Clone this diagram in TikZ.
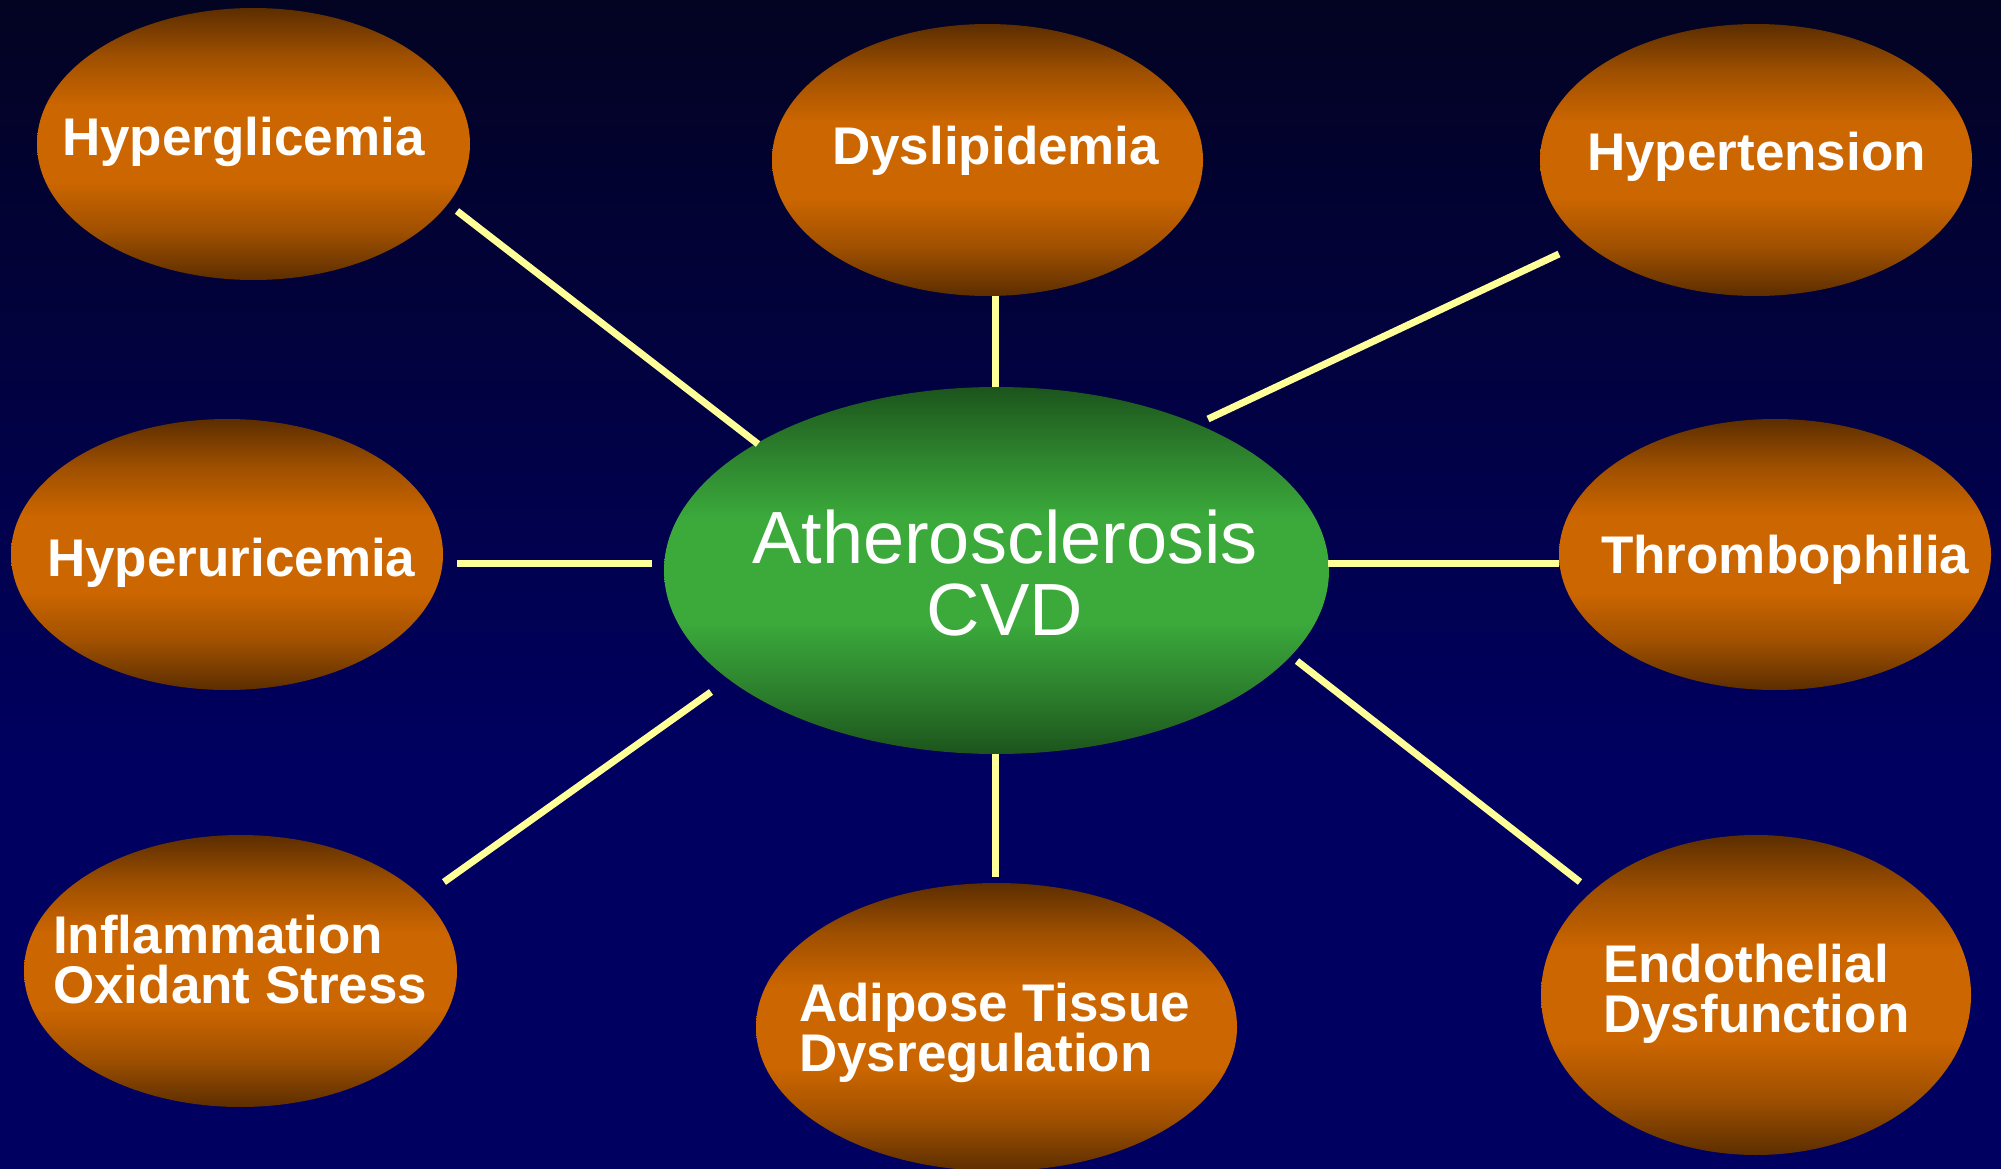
\documentclass[tikz,border=0pt]{standalone}
\usepackage{fontspec}
\setmainfont{Liberation Sans}
\usetikzlibrary{shapes.geometric}
\definecolor{bgtop}{RGB}{3,3,34}
\definecolor{bgbot}{RGB}{0,0,96}
\definecolor{orangemid}{RGB}{204,102,0}
\definecolor{orangeq}{RGB}{160,80,0}
\definecolor{orangeedge}{RGB}{92,46,0}
\definecolor{greenmid}{RGB}{59,170,59}
\definecolor{greenq}{RGB}{45,130,45}
\definecolor{greenedge}{RGB}{28,84,28}
\definecolor{linkcol}{RGB}{255,255,153}
\pgfdeclareverticalshading{orangeband}{100bp}{color(0bp)=(orangeedge); color(25bp)=(orangeedge); color(34bp)=(orangeq); color(43bp)=(orangemid); color(57bp)=(orangemid); color(66bp)=(orangeq); color(75bp)=(orangeedge); color(100bp)=(orangeedge)}
\pgfdeclareverticalshading{greenband}{100bp}{color(0bp)=(greenedge); color(25bp)=(greenedge); color(34bp)=(greenq); color(43bp)=(greenmid); color(57bp)=(greenmid); color(66bp)=(greenq); color(75bp)=(greenedge); color(100bp)=(greenedge)}
\tikzset{
  blob/.style={ellipse, inner sep=0pt, draw=none, shading=orangeband},
  hub/.style={ellipse, inner sep=0pt, draw=none, shading=greenband},
  lbl/.style={anchor=base west, inner sep=0pt, text=white, align=left,
    font=\fontsize{53}{50}\selectfont\bfseries},
  hublbl/.style={anchor=base, inner sep=0pt, text=white, align=center,
    font=\fontsize{74}{72}\selectfont},
  link/.style={draw=linkcol, line width=7pt}
}
\begin{document}
\begin{tikzpicture}[x=1pt,y=-1pt]
\useasboundingbox (0,0) rectangle (2001,1169);
% background
\fill[bgbot] (0,0) rectangle (2001,1169);
\shade[top color=bgtop, bottom color=bgbot] (0,0) rectangle (2001,760);

% ellipses
\node[hub, minimum width=665pt, minimum height=367pt] (cvd) at (996.5,570.5) {};
\node[blob, minimum width=433pt, minimum height=272pt] (hg) at (253.5,144) {};
\node[blob, minimum width=431pt, minimum height=272pt] (dl) at (987.5,160) {};
\node[blob, minimum width=432pt, minimum height=272pt] (ht) at (1756,160) {};
\node[blob, minimum width=432pt, minimum height=271pt] (hu) at (227,554.5) {};
\node[blob, minimum width=432pt, minimum height=271pt] (tp) at (1775,554.5) {};
\node[blob, minimum width=433pt, minimum height=272pt] (io) at (240.5,971) {};
\node[blob, minimum width=481pt, minimum height=288pt] (at) at (996.5,1027) {};
\node[blob, minimum width=430pt, minimum height=320pt] (ed) at (1756,995) {};

% labels (base anchor = baseline of the last line)
\node[hublbl] (tcvd) at (1005,635) {Atherosclerosis\\CVD};
\node[lbl] (thg) at (62,156) {Hyperglicemia};
\node[lbl] (tdl) at (832,165) {Dyslipidemia};
\node[lbl] (tht) at (1587,171) {Hypertension};
\node[lbl] (thu) at (47,576) {Hyperuricemia};
\node[lbl] (ttp) at (1601,573) {Thrombophilia};
\node[lbl] (tio) at (53,1003) {Inflammation\\Oxidant Stress};
\node[lbl] (tat) at (799,1071) {Adipose Tissue\\Dysregulation};
\node[lbl] (ted) at (1603,1032) {Endothelial\\Dysfunction};

% connector end points
\coordinate (a1) at (457,211);  \coordinate (b1) at (758,444);
\coordinate (a2) at (995,296);  \coordinate (b2) at (995,387);
\coordinate (a3) at (1559,254); \coordinate (b3) at (1208,419);
\coordinate (a4) at (457,563);  \coordinate (b4) at (652,563);
\coordinate (a5) at (1559,563); \coordinate (b5) at (1328,563);
\coordinate (a6) at (444,882);  \coordinate (b6) at (711,692);
\coordinate (a7) at (995,877);  \coordinate (b7) at (995,754);
\coordinate (a8) at (1580,882); \coordinate (b8) at (1297,661);

\draw[link] (a1) -- (b1);
\draw[link] (a2) -- (b2);
\draw[link] (a3) -- (b3);
\draw[link] (a4) -- (b4);
\draw[link] (a5) -- (b5);
\draw[link] (a6) -- (b6);
\draw[link] (a7) -- (b7);
\draw[link] (a8) -- (b8);
\end{tikzpicture}
\end{document}
